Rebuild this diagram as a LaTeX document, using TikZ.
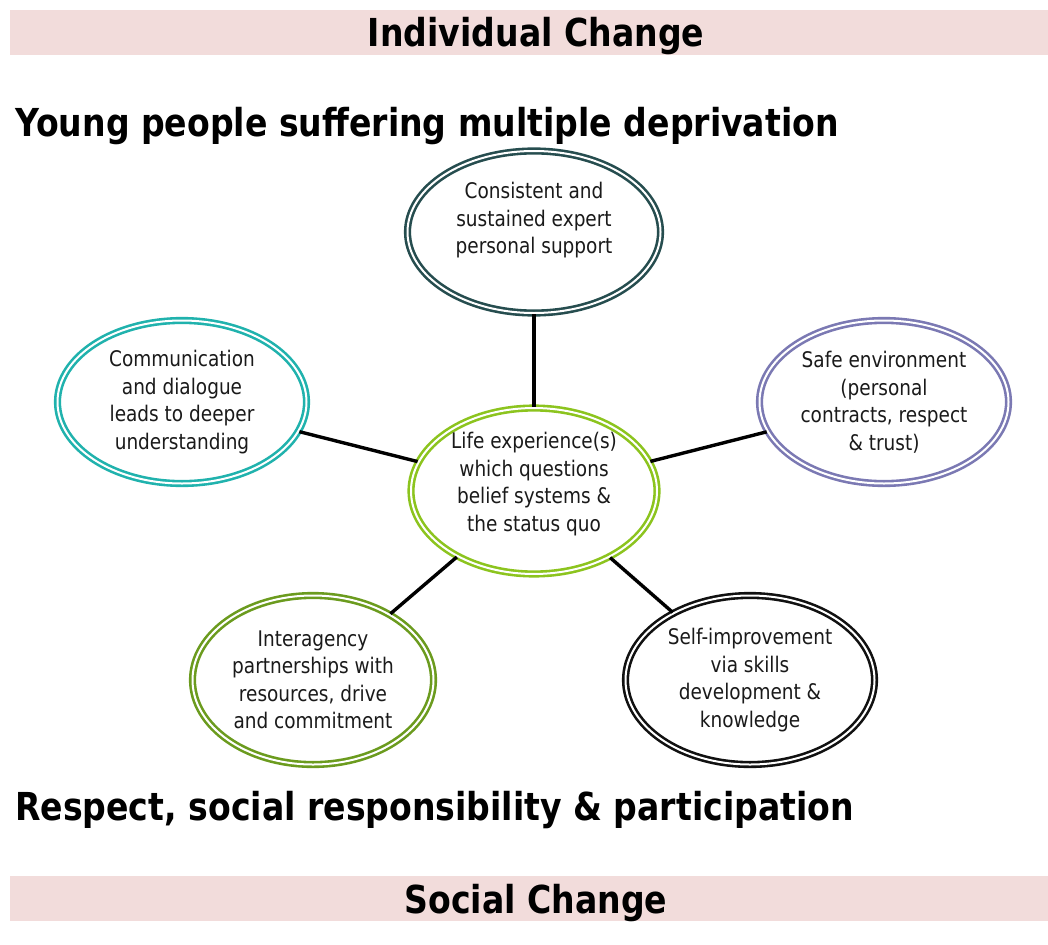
\documentclass[tikz,border=0pt]{standalone}
\usepackage{fontspec}
\setmainfont{DejaVu Sans}[FakeStretch=0.86]
\usetikzlibrary{shapes.geometric}
\definecolor{banner}{HTML}{F2DCDB}
\definecolor{ctop}{HTML}{264D4F}
\definecolor{cleft}{HTML}{20B2AD}
\definecolor{cright}{HTML}{7B79B3}
\definecolor{ccenter}{HTML}{8CC41E}
\definecolor{cbl}{HTML}{6B9B1E}
\definecolor{cbr}{HTML}{111111}
\definecolor{txt}{HTML}{1A1A1A}
\tikzset{
  bubble/.style={ellipse, double, line width=2.6pt, double distance=2pt, fill=white,
    inner sep=0pt, align=center, text=txt,
    font=\fontsize{21.5}{27.5}\selectfont},
  link/.style={line width=3.4pt, black},
  bannerbox/.style={fill=banner, draw=none, inner sep=0pt},
  title/.style={font=\fontsize{38.5}{42}\bfseries\selectfont, anchor=base west, inner sep=0pt},
  bannertext/.style={font=\fontsize{38.5}{42}\bfseries\selectfont, anchor=base, inner sep=0pt}
}
\begin{document}
\begin{tikzpicture}[x=1pt,y=-1pt]
\useasboundingbox (0,0) rectangle (1048,944);
\fill[white] (0,0) rectangle (1048,944);
% banners
\node[bannerbox, minimum width=1038pt, minimum height=45pt] (topbar) at (529,32.5) {};
\node[bannertext] (toptxt) at (536,47) {Individual Change};
\node[bannerbox, minimum width=1038pt, minimum height=45pt] (botbar) at (529,898.5) {};
\node[bannertext] (bottxt) at (536,913) {Social Change};
% titles
\node[title] (t1) at (15,137) {Young people suffering multiple deprivation};
\node[title] (t2) at (15,820) {Respect, social responsibility \& participation};
% ellipses
\node[bubble, draw=ccenter, minimum width=246pt, minimum height=152pt] (c) at (534,491) {Life experience(s)\\which questions\\belief systems \&\\the status quo\\[-9pt]\mbox{}};
\node[bubble, draw=ctop, minimum width=253pt, minimum height=162pt] (top) at (534,232) {Consistent and\\sustained expert\\personal support\\[0.5pt]\mbox{}};
\node[bubble, draw=cleft, minimum width=249pt, minimum height=163pt] (left) at (182,402) {Communication\\and dialogue\\leads to deeper\\understanding};
\node[bubble, draw=cright, minimum width=249pt, minimum height=163pt] (right) at (884,402) {Safe environment\\(personal\\contracts, respect\\\& trust)};
\node[bubble, draw=cbl, minimum width=241pt, minimum height=169pt] (bl) at (313,680) {Interagency\\partnerships with\\resources, drive\\and commitment};
\node[bubble, draw=cbr, minimum width=249pt, minimum height=169pt] (br) at (750,680) {Self-improvement\\via skills\\development \&\\knowledge};
% links
\draw[link] (c) -- (top);
\draw[link] (c) -- (left);
\draw[link] (c) -- (right);
\draw[link] (c) -- (bl);
\draw[link] (c) -- (br);
\end{tikzpicture}
\end{document}
